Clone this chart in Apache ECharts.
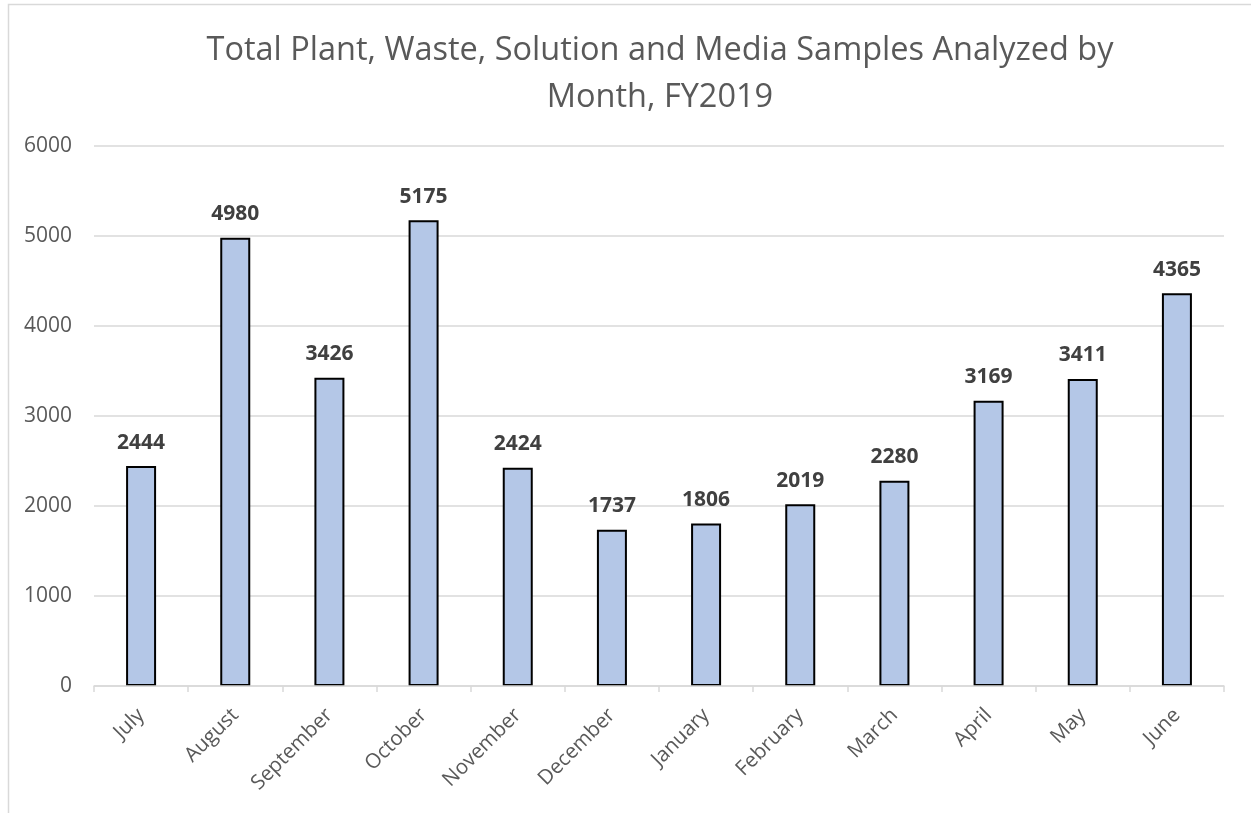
<!DOCTYPE html>
<html>
<head>
<meta charset="utf-8">
<script src="https://cdn.jsdelivr.net/npm/echarts@6/dist/echarts.min.js"></script>
<style>
html,body{margin:0;padding:0;background:#fff;}
#chart{width:1251px;height:813px;}
</style>
</head>
<body>
<div id="chart"></div>
<script>
const titleText = "Total Plant, Waste, Solution and Media Samples Analyzed by\nMonth, FY2019";
const months = ["July","August","September","October","November","December","January","February","March","April","May","June"];
const samples = [2444, 4980, 3426, 5175, 2424, 1737, 1806, 2019, 2280, 3169, 3411, 4365];
const yTicks = [0, 1000, 2000, 3000, 4000, 5000, 6000];

const FONT = "'Open Sans', 'Liberation Sans', sans-serif";
const chart = echarts.init(document.getElementById('chart'), null, {renderer: 'canvas'});
chart.setOption({
  animation: false,
  backgroundColor: '#ffffff',
  textStyle: {fontFamily: FONT},
  graphic: [{
    type: 'rect', left: 6, top: 2, silent: true,
    shape: {width: 1300, height: 900},
    style: {fill: 'none', stroke: '#d9d9d9', lineWidth: 1.5}
  }],
  title: {
    text: titleText,
    left: 655,
    textAlign: 'center',
    top: 22,
    textStyle: {fontFamily: FONT, fontSize: 32.5, fontWeight: 'normal', color: '#595959', lineHeight: 47}
  },
  grid: {left: 94, right: 27, top: 146, bottom: 127, containLabel: false},
  xAxis: {
    type: 'category',
    data: months,
    axisLine: {show: true, lineStyle: {color: '#d9d9d9', width: 1.5}},
    axisTick: {show: true, length: 6, lineStyle: {color: '#d9d9d9', width: 1.5}, alignWithLabel: false},
    axisLabel: {rotate: 45, margin: 26, fontFamily: FONT, fontSize: 20.5, color: '#595959', interval: 0},
    z: 5
  },
  yAxis: {
    type: 'value',
    min: yTicks[0],
    max: yTicks[yTicks.length - 1],
    interval: 1000,
    axisLine: {show: false},
    axisTick: {show: false},
    splitLine: {lineStyle: {color: '#d9d9d9', width: 1.5}},
    axisLabel: {margin: 22, fontFamily: FONT, fontSize: 21, color: '#595959', formatter: v => String(v)}
  },
  series: [{
    type: 'bar',
    data: samples,
    barWidth: 30,
    itemStyle: {color: '#b4c7e7', borderColor: '#000000', borderWidth: 2},
    label: {
      show: true, position: 'top', distance: 13,
      fontFamily: FONT, fontSize: 21, fontWeight: 'bold', color: '#404040'
    }
  }]
});
</script>
</body>
</html>
